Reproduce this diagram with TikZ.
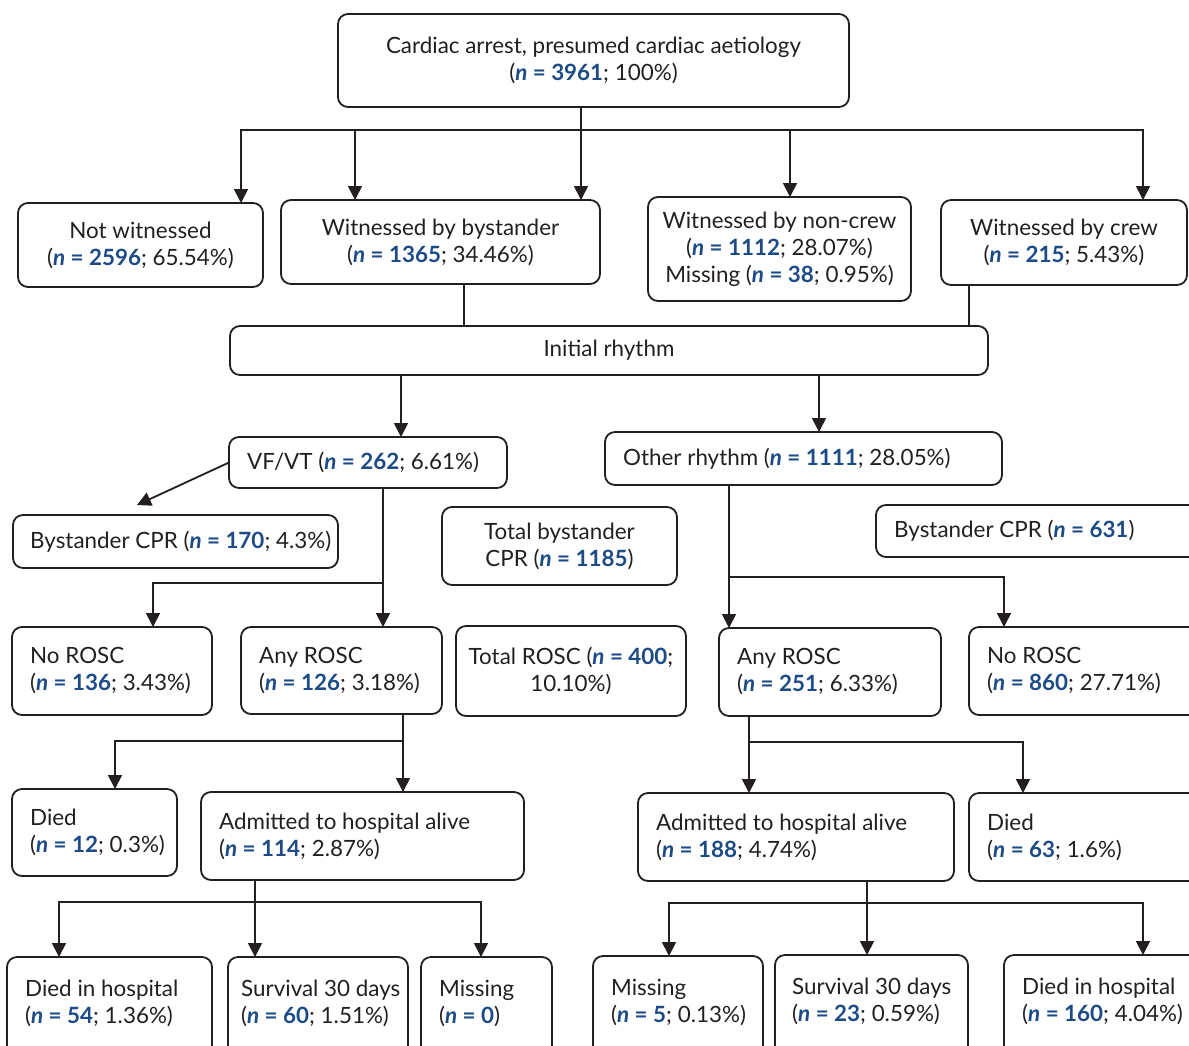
\documentclass[tikz,border=0pt]{standalone}
\usepackage{fontspec}
\setmainfont{Lato}
\usetikzlibrary{arrows.meta}
\definecolor{ink}{HTML}{231F20}
\definecolor{nblue}{HTML}{1C4B87}
% count in the form "n = ..." set in bold blue, n italic
\newcommand{\cnt}[1]{{\color{nblue}\bfseries\itshape n\upshape{} = #1}}
\begin{document}
\begin{tikzpicture}[x=1pt,y=-1pt,
  font=\fontsize{22.4}{27}\selectfont,
  line/.style={draw=ink, line width=1.8pt},
  arr/.style={line, -{Triangle[width=14pt,length=14pt]}},
  box/.style 2 args={draw=ink, line width=1.8pt, rounded corners=10pt,
    inner sep=0pt, outer sep=0pt, anchor=north west, text=ink,
    align=center, minimum width=#1, minimum height=#2},
  lt/.style={text=ink, align=left, inner sep=0pt, anchor=west}]
\useasboundingbox (0,0) rectangle (1189,1045);
\clip (0,0) rectangle (1189,1045);

% ---- boxes with centred text
\node[box={511pt}{93pt}] (top) at (338,14)
  {Cardiac arrest, presumed cardiac aetiology\\(\cnt{3961}; 100\%)};
\node[box={245pt}{84pt}] (notw) at (18,203) {Not witnessed\\(\cnt{2596}; 65.54\%)};
\node[box={319pt}{84pt}] (wbys) at (281,200) {Witnessed by bystander\\(\cnt{1365}; 34.46\%)};
\node[box={263pt}{104pt}] (wnon) at (648,197)
  {Witnessed by non-crew\\(\cnt{1112}; 28.07\%)\\Missing (\cnt{38}; 0.95\%)};
\node[box={246pt}{85pt}] (wcrew) at (941,200) {Witnessed by crew\\(\cnt{215}; 5.43\%)};
\node[box={758pt}{49pt}] (init) at (230,326) {Initial rhythm};
\node[box={235pt}{78pt}] (tbc) at (442,507) {Total bystander\\CPR (\cnt{1185})};
\node[box={230pt}{90pt}] (tr) at (456,626) {Total ROSC (\cnt{400};\\10.10\%)};

% ---- boxes with left-aligned text
\node[box={278pt}{51pt}] (vf) at (229,437) {};
\node[lt] (vf-t) at ([xshift=18pt]vf.west) {VF/VT (\cnt{262}; 6.61\%)};
\node[box={397pt}{53pt}] (oth) at (605,432) {};
\node[lt] (oth-t) at ([xshift=18pt]oth.west) {Other rhythm (\cnt{1111}; 28.05\%)};
\node[box={325pt}{53pt}] (bc170) at (13,515) {};
\node[lt] (bc170-t) at ([xshift=17pt]bc170.west) {Bystander CPR (\cnt{170}; 4.3\%)};
\node[box={330pt}{52pt}] (bc631) at (876,505) {};
\node[lt] (bc631-t) at ([xshift=18pt]bc631.west) {Bystander CPR (\cnt{631})};

\node[box={200pt}{88pt}] (nr136) at (12,627) {};
\node[lt] (nr136-t) at ([xshift=18pt]nr136.west) {No ROSC\\(\cnt{136}; 3.43\%)};
\node[box={201pt}{87pt}] (ar126) at (241,627) {};
\node[lt] (ar126-t) at ([xshift=18pt]ar126.west) {Any ROSC\\(\cnt{126}; 3.18\%)};
\node[box={222pt}{88pt}] (ar251) at (719,628) {};
\node[lt] (ar251-t) at ([xshift=18pt]ar251.west) {Any ROSC\\(\cnt{251}; 6.33\%)};
\node[box={237pt}{88pt}] (nr860) at (969,627) {};
\node[lt] (nr860-t) at ([xshift=18pt]nr860.west) {No ROSC\\(\cnt{860}; 27.71\%)};

\node[box={165pt}{87pt}] (d12) at (12,789) {};
\node[lt] (d12-t) at ([xshift=18pt]d12.west) {Died\\(\cnt{12}; 0.3\%)};
\node[box={323pt}{88pt}] (ad114) at (201,792) {};
\node[lt] (ad114-t) at ([xshift=18pt]ad114.west) {Admitted to hospital alive\\(\cnt{114}; 2.87\%)};
\node[box={316pt}{88pt}] (ad188) at (638,793) {};
\node[lt] (ad188-t) at ([xshift=18pt]ad188.west) {Admitted to hospital alive\\(\cnt{188}; 4.74\%)};
\node[box={237pt}{88pt}] (d63) at (969,793) {};
\node[lt] (d63-t) at ([xshift=18pt]d63.west) {Died\\(\cnt{63}; 1.6\%)};

% ---- outcome row (runs past the lower edge)
\node[box={205pt}{110pt}] (dh54) at (7,957) {};
\node[lt] (dh54-t) at ([xshift=18pt,yshift=-46pt]dh54.north west) {Died in hospital\\(\cnt{54}; 1.36\%)};
\node[box={180pt}{110pt}] (s60) at (228,957) {};
\node[lt] (s60-t) at ([xshift=13pt,yshift=-46pt]s60.north west) {Survival 30 days\\(\cnt{60}; 1.51\%)};
\node[box={131pt}{110pt}] (m0) at (421,957) {};
\node[lt] (m0-t) at ([xshift=18pt,yshift=-46pt]m0.north west) {Missing\\(\cnt{0})};
\node[box={170pt}{110pt}] (m5) at (593,956) {};
\node[lt] (m5-t) at ([xshift=18pt,yshift=-46pt]m5.north west) {Missing\\(\cnt{5}; 0.13\%)};
\node[box={193pt}{110pt}] (s23) at (775,955) {};
\node[lt] (s23-t) at ([xshift=17pt,yshift=-46pt]s23.north west) {Survival 30 days\\(\cnt{23}; 0.59\%)};
\node[box={202pt}{110pt}] (dh160) at (1004,955) {};
\node[lt] (dh160-t) at ([xshift=18pt,yshift=-46pt]dh160.north west) {Died in hospital\\(\cnt{160}; 4.04\%)};

% ---- connectors
% cardiac arrest -> witness status
\coordinate (t0) at (581,130);
\coordinate (tL) at (241,130);
\coordinate (t1) at (355,130);
\coordinate (t3) at (790,130);
\coordinate (tR) at (1143,130);
\draw[line] (top.south -| t0) -- (t0);
\draw[arr] (t0) -- (tL) -- (tL |- notw.north);
\draw[arr] (t0) -- (tR) -- (tR |- wcrew.north);
\draw[arr] (t0) -- (t0 |- wbys.north);
\draw[arr] (t1) -- (t1 |- wbys.north);
\draw[arr] (t3) -- (t3 |- wnon.north);

% witnessed -> initial rhythm
\coordinate (k1) at (464,310);
\coordinate (k2) at (969,310);
\draw[line] (wbys.south -| k1) -- (k1 |- init.north);
\draw[line] (wcrew.south -| k2) -- (k2 |- init.north);

% initial rhythm -> rhythm groups
\coordinate (r1) at (401,400);
\coordinate (r2) at (819,400);
\draw[arr] (init.south -| r1) -- (r1 |- vf.north);
\draw[arr] (init.south -| r2) -- (r2 |- oth.north);

% VF/VT -> bystander CPR
\coordinate (bcp) at (137,505);
\draw[arr] (vf.west) -- (bcp);

% VF/VT -> ROSC
\coordinate (v0) at (383,583);
\coordinate (v1) at (153,583);
\draw[arr] (vf.south -| v0) -- (v0 |- ar126.north);
\draw[arr] (v0) -- (v1) -- (v1 |- nr136.north);

% other rhythm -> ROSC
\coordinate (o0) at (729,577);
\coordinate (o1) at (1004,577);
\draw[arr] (oth.south -| o0) -- (o0 |- ar251.north);
\draw[arr] (o0) -- (o1) -- (o1 |- nr860.north);

% any ROSC (VF/VT) -> admission
\coordinate (a0) at (403,741);
\coordinate (a1) at (115,741);
\draw[arr] (ar126.south -| a0) -- (a0 |- ad114.north);
\draw[arr] (a0) -- (a1) -- (a1 |- d12.north);

% any ROSC (other) -> admission
\coordinate (b0) at (749,742);
\coordinate (b1) at (1023,742);
\draw[arr] (ar251.south -| b0) -- (b0 |- ad188.north);
\draw[arr] (b0) -- (b1) -- (b1 |- d63.north);

% admitted (VF/VT) -> 30-day outcome
\coordinate (h0) at (255,902);
\coordinate (h1) at (59,902);
\coordinate (h2) at (481,902);
\draw[arr] (ad114.south -| h0) -- (h0 |- s60.north);
\draw[arr] (h0) -- (h1) -- (h1 |- dh54.north);
\draw[arr] (h0) -- (h2) -- (h2 |- m0.north);

% admitted (other) -> 30-day outcome
\coordinate (g0) at (867,903);
\coordinate (g1) at (669,903);
\coordinate (g2) at (1143,903);
\draw[arr] (ad188.south -| g0) -- (g0 |- s23.north);
\draw[arr] (g0) -- (g1) -- (g1 |- m5.north);
\draw[arr] (g0) -- (g2) -- (g2 |- dh160.north);
\end{tikzpicture}
\end{document}
